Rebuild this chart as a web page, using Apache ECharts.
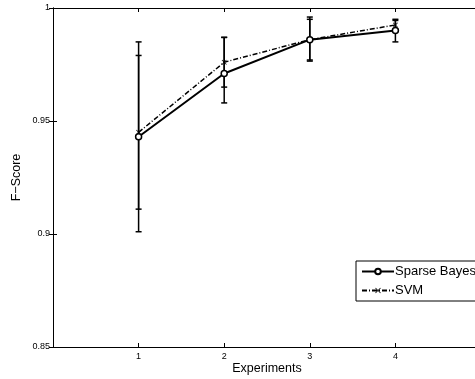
<!DOCTYPE html>
<html>
<head>
<meta charset="utf-8">
<script src="https://cdn.jsdelivr.net/npm/echarts@6/dist/echarts.min.js"></script>
<style>
  html, body { margin: 0; padding: 0; background: #fff; }
  #chart { width: 475px; height: 379px; }
</style>
</head>
<body>
<div id="chart"></div>
<script>
// data
const experiments = [1, 2, 3, 4];
const sparseBayes = [0.943, 0.971, 0.986, 0.990];
const sparseLow = [0.901, 0.958, 0.9765, 0.985];
const sparseHigh = [0.985, 0.987, 0.996, 0.995];
const svm = [0.945, 0.976, 0.986, 0.9925];
const svmLow = [0.911, 0.965, 0.977, 0.9905];
const svmHigh = [0.979, 0.987, 0.995, 0.9945];
const yTicks = [0.85, 0.9, 0.95, 1];

const font = 'Liberation Sans, Arial, sans-serif';
const crossPath = 'path://M0,1L1,0L5,4L9,0L10,1L6,5L10,9L9,10L5,6L1,10L0,9L4,5Z';

function errorBars(low, high) {
  return experiments.map((x, i) => [x, low[i], high[i]]);
}

// vertical bar + caps
function renderErr(params, api) {
  const x = api.value(0);
  const lo = api.coord([x, api.value(1)]);
  const hi = api.coord([x, api.value(2)]);
  const w = 3;
  const st = { stroke: '#000', lineWidth: 1.5 };
  return {
    type: 'group',
    children: [
      { type: 'line', shape: { x1: lo[0], y1: lo[1], x2: hi[0], y2: hi[1] }, style: st },
      { type: 'line', shape: { x1: lo[0] - w, y1: lo[1], x2: lo[0] + w, y2: lo[1] }, style: st },
      { type: 'line', shape: { x1: hi[0] - w, y1: hi[1], x2: hi[0] + w, y2: hi[1] }, style: st }
    ]
  };
}

const chart = echarts.init(document.getElementById('chart'));

const axisCommon = {
  axisLine: { show: true, lineStyle: { color: '#000', width: 1 } },
  axisTick: { show: true, inside: true, length: 4, lineStyle: { color: '#000' } },
  splitLine: { show: false }
};

chart.setOption({
  animation: false,
  grid: { left: 53, top: 8, width: 428, height: 339, containLabel: false, outerBoundsMode: 'none' },
  legend: {
    orient: 'vertical',
    left: 356,
    top: 261,
    backgroundColor: '#fff',
    borderColor: '#000',
    borderWidth: 1,
    borderRadius: 0,
    padding: [4, 8, 4, 5],
    itemGap: 6,
    itemWidth: 32,
    itemHeight: 7,
    textStyle: { fontFamily: font, fontSize: 13, color: '#000', padding: [0, 0, 0, -4] },
    data: ['Sparse Bayes', 'SVM']
  },
  xAxis: [
    Object.assign({}, axisCommon, {
      type: 'value', min: 0, max: 5, interval: 1,
      name: 'Experiments', nameLocation: 'middle', nameGap: 15, nameMoveOverlap: false,
      nameTextStyle: { fontFamily: font, fontSize: 12.5, color: '#000' },
      axisLabel: {
        fontFamily: font, fontSize: 9, color: '#000', margin: 5,
        formatter: v => (v >= 1 && v <= 4 ? String(v) : '')
      }
    }),
    Object.assign({}, axisCommon, {
      type: 'value', min: 0, max: 5, interval: 1, position: 'top',
      axisLabel: { show: false }
    })
  ],
  yAxis: [
    Object.assign({}, axisCommon, {
      type: 'value', min: 0.85, max: 1, interval: 0.05,
      name: 'F\u2212Score', nameLocation: 'middle', nameGap: 30, nameMoveOverlap: false,
      nameTextStyle: { fontFamily: font, fontSize: 12.5, color: '#000' },
      axisLabel: {
        fontFamily: font, fontSize: 9, color: '#000', margin: 3,
        formatter: v => {
          const t = yTicks.find(k => Math.abs(k - v) < 1e-6);
          return t === undefined ? '' : String(t);
        }
      }
    }),
    Object.assign({}, axisCommon, {
      type: 'value', min: 0.85, max: 1, interval: 0.05, position: 'right',
      axisLabel: { show: false }
    })
  ],
  series: [
    {
      type: 'custom',
      name: 'sbErr',
      renderItem: renderErr,
      data: errorBars(sparseLow, sparseHigh),
      encode: { x: 0, y: [1, 2] },
      z: 3
    },
    {
      type: 'custom',
      name: 'svmErr',
      renderItem: renderErr,
      data: errorBars(svmLow, svmHigh),
      encode: { x: 0, y: [1, 2] },
      z: 3
    },
    {
      name: 'SVM',
      type: 'line',
      data: experiments.map((x, i) => [x, svm[i]]),
      symbol: crossPath,
      symbolSize: 5,
      showAllSymbol: true,
      lineStyle: { color: '#000', width: 1.5, type: [5, 2, 1, 2] },
      itemStyle: { color: '#000' },
      z: 4
    },
    {
      name: 'Sparse Bayes',
      type: 'line',
      data: experiments.map((x, i) => [x, sparseBayes[i]]),
      symbol: 'circle',
      symbolSize: 6,
      showAllSymbol: true,
      lineStyle: { color: '#000', width: 2 },
      itemStyle: { color: '#fff', borderColor: '#000', borderWidth: 1.5 },
      z: 5
    }
  ]
});
</script>
</body>
</html>
